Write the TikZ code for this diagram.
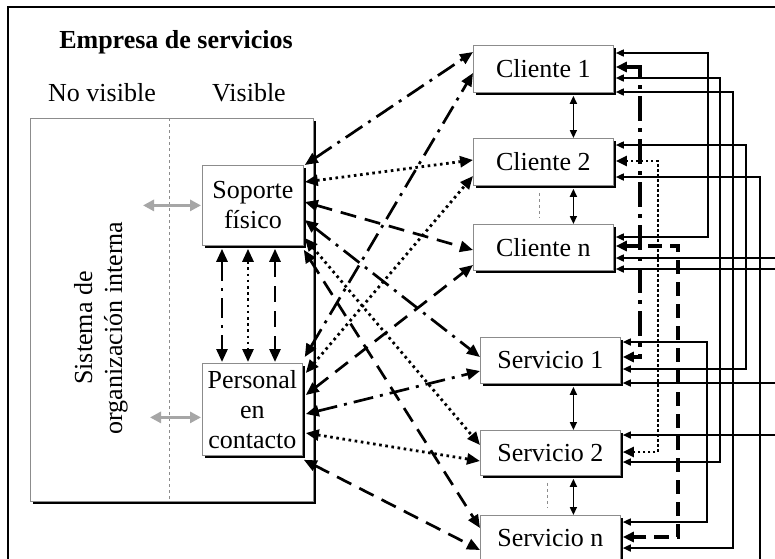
\documentclass[tikz,border=0pt]{standalone}
\usepackage{fontspec}
\setmainfont{Liberation Serif}
\usetikzlibrary{arrows.meta,calc,shadows}

\tikzset{
  txt/.style={font=\fontsize{26}{30}\selectfont},
  shbox/.style={draw=black!45, line width=0.8pt, fill=white, anchor=north west,
    inner sep=1pt, align=center, txt,
    drop shadow={shadow xshift=3pt, shadow yshift=-3pt, fill=black, opacity=1}},
  % tips
  bigtips/.style={{Triangle[length=13pt,width=11pt]}-{Triangle[length=13pt,width=11pt]}},
  smalltips/.style={{Triangle[length=8pt,width=7pt]}-{Triangle[length=8pt,width=7pt]}},
  smalltip/.style={{Triangle[length=8pt,width=7pt]}-},
  % line kinds
  dd line/.style={line width=2.7pt, dash pattern=on 20pt off 7pt on 3pt off 7pt},
  dt line/.style={line width=2.8pt, dash pattern=on 2.6pt off 3.6pt},
  ds line/.style={line width=2.7pt, dash pattern=on 16pt off 9pt},
  wire/.style={line width=1.6pt, smalltips},
  greyarrow/.style={draw=black!35, line width=3pt,
    {Triangle[length=11pt,width=11pt]}-{Triangle[length=11pt,width=11pt]}}
}

\begin{document}
\begin{tikzpicture}[x=1pt,y=1pt,yscale=-1]
	\clip (0,0) rectangle (775,558);

	%Outer frame
	\draw[line width=1.5pt] (8,7) rectangle (800,600);

	% Text Node
	\node[txt, font=\fontsize{26}{30}\selectfont\bfseries] (title) at (176,42) {Empresa de servicios};
	\node[txt] (novis) at (102,93) {No visible};
	\node[txt] (vis) at (249,93) {Visible};

	%Shape: internal organisation
	\node[shbox, minimum width=283pt, minimum height=383pt] (org) at (30,118) {};
	\draw[black!45, dashed, line width=0.8pt] ($(org.north west)+(139,0)$) -- ($(org.south west)+(139,0)$);
	\node[txt, rotate=90, align=center] (orglbl) at (101,328) {Sistema de\\organización interna};

	%Shape: visible part
	\node[shbox, minimum width=101pt, minimum height=80pt] (sop) at (202,165) {Soporte\\físico};
	\node[shbox, minimum width=100pt, minimum height=92pt] (pers) at (202,363) {Personal\\en\\contacto};

	%Shape: clients
	\node[shbox, minimum width=140pt, minimum height=47pt] (c1) at (473,45) {Cliente 1};
	\node[shbox, minimum width=140pt, minimum height=47pt] (c2) at (473,138) {Cliente 2};
	\node[shbox, minimum width=140pt, minimum height=46pt] (cn) at (473,224) {Cliente n};

	%Shape: services
	\node[shbox, minimum width=140pt, minimum height=46pt] (s1) at (480,337) {Servicio 1};
	\node[shbox, minimum width=140pt, minimum height=45pt] (s2) at (480,430) {Servicio 2};
	\node[shbox, minimum width=140pt, minimum height=46pt] (sn) at (480,515) {Servicio n};

	%Grey arrows to the hidden part
	\draw[greyarrow] ($(sop.west)+(-59,0)$) -- ($(sop.west)+(-1,0)$);
	\draw[greyarrow] ($(pers.west)+(-52,8)$) -- ($(pers.west)+(-1,8)$);

	%Between support and staff
	\draw[bigtips, dd line] ($(sop.south west)+(20,3)$) -- ($(pers.north west)+(20,-1)$);
	\draw[bigtips, dt line] ($(sop.south west)+(46,3)$) -- ($(pers.north west)+(46,-1)$);
	\draw[bigtips, ds line] ($(sop.south west)+(73,3)$) -- ($(pers.north west)+(73,-1)$);

	%Support to clients and services
	\draw[bigtips, dd line] ($(sop.north east)+(1,0)$) -- ($(c1.north west)+(0,7)$);
	\draw[bigtips, dt line] ($(sop.north east)+(1,17)$) -- ($(c2.north west)+(0,22)$);
	\draw[bigtips, ds line] ($(sop.north east)+(1,37)$) -- ($(cn.north west)+(0,26)$);
	\draw[bigtips, dd line] ($(sop.north east)+(1,55)$) -- ($(s1.north west)+(0,20)$);
	\draw[bigtips, dt line] ($(sop.north east)+(1,73)$) -- ($(s2.north west)+(0,15)$);
	\draw[bigtips, ds line] ($(sop.south east)+(0,4)$) -- ($(sn.north west)+(0,13)$);

	%Staff to clients and services
	\draw[bigtips, dd line] ($(pers.north east)+(2,-6)$) -- ($(c1.north west)+(0,28)$);
	\draw[bigtips, dt line] ($(pers.north east)+(3,10)$) -- ($(c2.north west)+(0,38)$);
	\draw[bigtips, ds line] ($(pers.north east)+(3,32)$) -- ($(cn.north west)+(0,41)$);
	\draw[bigtips, dd line] ($(pers.north east)+(3,51)$) -- ($(s1.north west)+(0,34)$);
	\draw[bigtips, dt line] ($(pers.north east)+(3,70)$) -- ($(s2.north west)+(0,31)$);
	\draw[bigtips, ds line] ($(pers.south east)+(1,4)$) -- ($(sn.north west)+(0,35)$);

	%Links inside each column
	\draw[wire] ($(c1.south)+(30,3)$) -- ($(c2.north)+(30,0)$);
	\draw[wire] ($(c2.south)+(30,3)$) -- ($(cn.north)+(30,0)$);
	\draw[wire] ($(s1.south)+(23,3)$) -- ($(s2.north)+(23,0)$);
	\draw[wire] ($(s2.south)+(23,3)$) -- ($(sn.north)+(23,0)$);
	\draw[black!45, dashed, line width=0.8pt] ($(c2.south)+(-4,7)$) -- ($(cn.north)+(-4,-7)$);
	\draw[black!45, dashed, line width=0.8pt] ($(s2.south)+(-3,7)$) -- ($(sn.north)+(-3,-7)$);

	%Wiring on the right
	\draw[wire] ($(c1.north east)+(2,8)$) -- ++(92,0) |- ($(cn.north east)+(2,13)$);
	\draw[wire] ($(c1.north east)+(2,33)$) -- ++(104,0) |- ($(s2.north east)+(2,32)$);
	\draw[wire] ($(c1.north east)+(2,47)$) -- ++(117,0) |- ($(sn.north east)+(2,33)$);
	\draw[wire] ($(c2.north east)+(2,7)$) -- ++(130,0) |- ($(s1.north east)+(2,32)$);
	\draw[wire, smalltip] ($(c2.north east)+(2,39)$) -- ++(144,0) -- ++(0,420);
	\draw[wire, smalltip] ($(cn.north east)+(2,34)$) -- ++(180,0);
	\draw[wire, smalltip] ($(cn.north east)+(2,45)$) -- ++(180,0);
	\draw[wire] ($(s1.north east)+(2,5)$) -- ++(84,0) |- ($(sn.north east)+(2,7)$);
	\draw[wire, smalltip] ($(s1.north east)+(2,46)$) -- ++(180,0);
	\draw[wire, smalltip] ($(s2.north east)+(2,5)$) -- ++(180,0);

	%Thick links client to service
	\draw[line width=3.5pt, dash pattern=on 25pt off 7pt on 4pt off 7pt,
	  {Triangle[length=11pt,width=10pt]}-{Triangle[length=11pt,width=10pt]}]
	  ($(c1.north east)+(2,22)$) -- ++(24,0) |- ($(s1.north east)+(2,20)$);
	\draw[line width=2.4pt, dash pattern=on 2.2pt off 2.8pt,
	  {Triangle[length=11pt,width=10pt]}-{Triangle[length=11pt,width=10pt]}]
	  ($(c2.north east)+(2,23)$) -- ++(42,0) |- ($(s2.north east)+(2,22)$);
	\draw[line width=3.5pt, dash pattern=on 14pt off 8pt,
	  {Triangle[length=11pt,width=10pt]}-{Triangle[length=11pt,width=10pt]}]
	  ($(cn.north east)+(2,22)$) -- ++(62,0) |- ($(sn.north east)+(2,22)$);

\end{tikzpicture}
\end{document}
